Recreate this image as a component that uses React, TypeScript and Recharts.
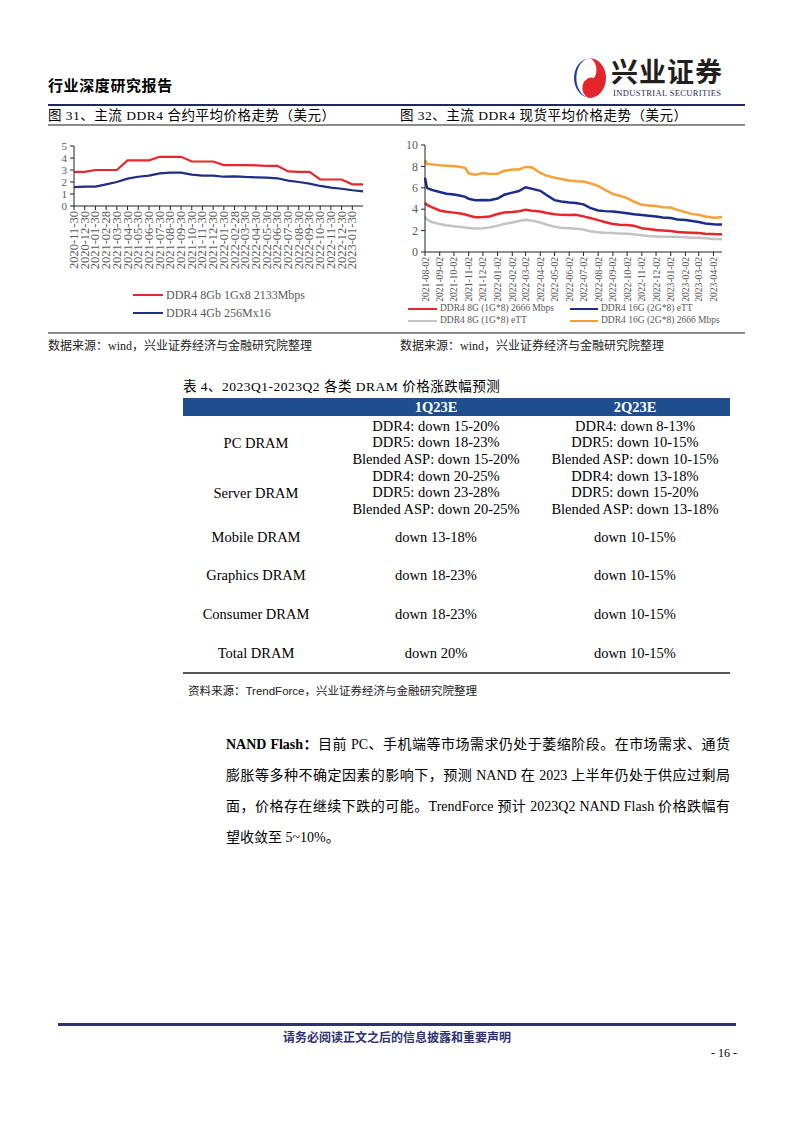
import React from 'react'
import { LineChart, Line, XAxis, YAxis } from 'recharts'

const serif = '"Liberation Serif", "Times New Roman", "Noto Sans CJK SC", serif'
const sans = '"Noto Sans CJK SC", "Liberation Sans", sans-serif'
const axisGray = '#595959'

// 图31 合约价（月度）
const contractMonths = [
  '2020-11-30', '2020-12-30', '2021-01-30', '2021-02-28', '2021-03-30', '2021-04-30', '2021-05-30',
  '2021-06-30', '2021-07-30', '2021-08-30', '2021-09-30', '2021-10-30', '2021-11-30', '2021-12-30',
  '2022-01-30', '2022-02-28', '2022-03-30', '2022-04-30', '2022-05-30', '2022-06-30', '2022-07-30',
  '2022-08-30', '2022-09-30', '2022-10-30', '2022-11-30', '2022-12-30', '2023-01-30', '2023-02-28',
]
const contract8Gb = [
  2.85, 2.85, 3.0, 3.0, 3.0, 3.8, 3.8, 3.8, 4.1, 4.1, 4.1, 3.71, 3.71, 3.71,
  3.41, 3.41, 3.41, 3.39, 3.35, 3.35, 2.88, 2.85, 2.85, 2.21, 2.21, 2.21, 1.81, 1.81,
]
const contract4Gb = [
  1.58, 1.61, 1.61, 1.8, 2.0, 2.28, 2.44, 2.53, 2.72, 2.78, 2.78, 2.61, 2.53, 2.53,
  2.44, 2.47, 2.42, 2.39, 2.36, 2.31, 2.11, 2.0, 1.86, 1.67, 1.53, 1.44, 1.31, 1.22,
]
// the last month has no label on the axis
const contractTicks = contractMonths.slice(0, 27)

// 图32 现货价
const spotDates = [
  '2021-08-02', '2021-08-06', '2021-08-16', '2021-09-02', '2021-09-16', '2021-10-02', '2021-10-16',
  '2021-10-26', '2021-11-02', '2021-11-16', '2021-12-02', '2021-12-16', '2022-01-02', '2022-01-16',
  '2022-02-02', '2022-02-16', '2022-03-02', '2022-03-16', '2022-04-02', '2022-04-16', '2022-05-02',
  '2022-05-16', '2022-06-02', '2022-06-16', '2022-07-02', '2022-07-16', '2022-08-02', '2022-08-16',
  '2022-09-02', '2022-09-16', '2022-10-02', '2022-10-16', '2022-11-02', '2022-11-16', '2022-12-02',
  '2022-12-16', '2023-01-02', '2023-01-16', '2023-02-02', '2023-02-16', '2023-03-02', '2023-03-16',
  '2023-04-02', '2023-04-10', '2023-04-20',
]
const spot8G2666 = [
  4.59, 4.4, 4.2, 3.88, 3.76, 3.68, 3.6, 3.5, 3.41, 3.25, 3.26, 3.32, 3.55, 3.7, 3.74,
  3.8, 3.94, 3.86, 3.78, 3.65, 3.53, 3.47, 3.45, 3.47, 3.33, 3.17, 2.98, 2.8, 2.62, 2.55,
  2.52, 2.46, 2.22, 2.14, 2.06, 2.02, 1.96, 1.87, 1.83, 1.8, 1.77, 1.71, 1.68, 1.66, 1.65,
]
const spot16GeTT = [
  6.94, 6.0, 5.8, 5.6, 5.45, 5.38, 5.25, 5.15, 4.97, 4.84, 4.86, 4.84, 5.0, 5.35, 5.55,
  5.7, 6.05, 5.9, 5.72, 5.3, 4.85, 4.72, 4.62, 4.58, 4.45, 4.12, 3.88, 3.82, 3.79, 3.72,
  3.62, 3.52, 3.45, 3.39, 3.32, 3.23, 3.17, 3.04, 2.98, 2.89, 2.8, 2.67, 2.6, 2.58, 2.58,
]
const spot8GeTT = [
  3.3, 3.05, 2.8, 2.62, 2.5, 2.4, 2.34, 2.28, 2.25, 2.19, 2.22, 2.3, 2.45, 2.62, 2.76,
  2.9, 3.02, 2.92, 2.75, 2.55, 2.36, 2.27, 2.22, 2.17, 2.1, 1.94, 1.84, 1.8, 1.77, 1.74,
  1.71, 1.65, 1.56, 1.5, 1.46, 1.43, 1.42, 1.4, 1.37, 1.34, 1.33, 1.28, 1.22, 1.21, 1.2,
]
const spot16G2666 = [
  8.56, 8.25, 8.19, 8.1, 8.06, 8.03, 7.94, 7.85, 7.35, 7.22, 7.38, 7.3, 7.32, 7.6, 7.7,
  7.72, 7.95, 7.9, 7.4, 7.12, 6.95, 6.82, 6.68, 6.61, 6.58, 6.43, 6.18, 5.81, 5.43, 5.25,
  5.03, 4.72, 4.41, 4.35, 4.29, 4.19, 4.16, 3.94, 3.73, 3.54, 3.48, 3.32, 3.2, 3.22, 3.26,
]
const spotTickDates = [
  '2021-08-02', '2021-09-02', '2021-10-02', '2021-11-02', '2021-12-02', '2022-01-02', '2022-02-02',
  '2022-03-02', '2022-04-02', '2022-05-02', '2022-06-02', '2022-07-02', '2022-08-02', '2022-09-02',
  '2022-10-02', '2022-11-02', '2022-12-02', '2023-01-02', '2023-02-02', '2023-03-02', '2023-04-02',
]

// 表4
const tableCols = ['1Q23E', '2Q23E']
const pcDram1Q = ['DDR4: down 15-20%', 'DDR5: down 18-23%', 'Blended ASP: down 15-20%']
const pcDram2Q = ['DDR4: down 8-13%', 'DDR5: down 10-15%', 'Blended ASP: down 10-15%']
const serverDram1Q = ['DDR4: down 20-25%', 'DDR5: down 23-28%', 'Blended ASP: down 20-25%']
const serverDram2Q = ['DDR4: down 13-18%', 'DDR5: down 15-20%', 'Blended ASP: down 13-18%']
const simpleRows = [
  ['Mobile DRAM', 'down 13-18%', 'down 10-15%'],
  ['Graphics DRAM', 'down 18-23%', 'down 10-15%'],
  ['Consumer DRAM', 'down 18-23%', 'down 10-15%'],
  ['Total DRAM', 'down 20%', 'down 10-15%'],
]

const contractData = contractMonths.map((m, i) => ({ m, a: contract8Gb[i], b: contract4Gb[i] }))
const spotData = spotDates.map((d, i) => ({
  t: Date.parse(d),
  red: spot8G2666[i],
  blue: spot16GeTT[i],
  gray: spot8GeTT[i],
  orange: spot16G2666[i],
}))
const spotTicks = spotTickDates.map((d) => Date.parse(d))
const fmtDate = (t: number) => new Date(t).toISOString().slice(0, 10)

function VerticalTick(props: any) {
  const { x, y, payload, fontSize, fmt } = props
  const label = fmt ? fmt(payload.value) : payload.value
  return (
    <g transform={`translate(${x},${y})`}>
      <text
        transform="rotate(-90)"
        textAnchor="end"
        dominantBaseline="central"
        fontSize={fontSize}
        fill={axisGray}
        fontFamily={serif}
      >
        {label}
      </text>
    </g>
  )
}

function Txt({ x, y, size, children, style }: any) {
  return (
    <div
      style={{
        position: 'absolute',
        left: x,
        top: y - size * 0.6,
        lineHeight: `${size * 1.2}px`,
        fontSize: size,
        whiteSpace: 'nowrap',
        ...style,
      }}
    >
      {children}
    </div>
  )
}

function Rule({ x, y, w, h, color }: any) {
  return <div style={{ position: 'absolute', left: x, top: y, width: w, height: h, background: color }} />
}

function LegendItem({ x, y, color, label, size, seg }: any) {
  return (
    <>
      <div style={{ position: 'absolute', left: x, top: y - 1.25, width: seg, height: 2.5, background: color }} />
      <Txt x={x + seg + 3} y={y} size={size} style={{ color: axisGray, fontFamily: serif }}>
        {label}
      </Txt>
    </>
  )
}

function Cell({ cx, y, children }: any) {
  return (
    <div
      style={{
        position: 'absolute',
        left: cx - 150,
        width: 300,
        top: y - 8.5,
        lineHeight: '17px',
        textAlign: 'center',
        fontSize: 14.5,
        fontFamily: serif,
        whiteSpace: 'nowrap',
      }}
    >
      {children}
    </div>
  )
}

function Logo() {
  return (
    <svg style={{ position: 'absolute', left: 572, top: 57 }} width={36} height={42} viewBox="0 0 36 42">
      <path d="M19 1 A17 20 0 0 0 19 41 A11 15 0 0 1 19 1 Z" fill="#1f3f95" />
      <path d="M17 41 A17 20 0 0 0 17 1 A9 12 0 0 1 22 21 A8 9 0 0 0 17 41 Z" fill="#e3262c" />
    </svg>
  )
}

const paraLines = [
  '膨胀等多种不确定因素的影响下，预测 NAND 在 2023 上半年仍处于供应过剩局',
  '面，价格存在继续下跌的可能。TrendForce 预计 2023Q2 NAND Flash 价格跌幅有',
]

export default function App() {
  const colX = [256, 436, 635]
  return (
    <div
      style={{
        position: 'absolute',
        left: 0,
        top: 0,
        width: 794,
        height: 1123,
        background: '#fff',
        fontFamily: serif,
        color: '#000',
        overflow: 'hidden',
      }}
    >
      {/* 页眉 */}
      <Txt x={48} y={85} size={15} style={{ fontFamily: sans, fontWeight: 700, letterSpacing: 0.6 }}>
        行业深度研究报告
      </Txt>
      <Logo />
      <Txt x={611} y={71} size={27} style={{ fontFamily: sans, fontWeight: 700, color: '#231f20', letterSpacing: 1 }}>
        兴业证券
      </Txt>
      <Txt x={613} y={93} size={8.5} style={{ color: '#1f2a5c', letterSpacing: 0.35 }}>
        INDUSTRIAL SECURITIES
      </Txt>
      <Rule x={48} y={104} w={697} h={1.5} color="#1f2a5c" />

      {/* 图标题 */}
      <Txt x={48} y={116} size={13.5} style={{ letterSpacing: 0.5 }}>
        图 31、主流 DDR4 合约平均价格走势（美元）
      </Txt>
      <Txt x={400} y={116} size={13.5} style={{ letterSpacing: 0.5 }}>
        图 32、主流 DDR4 现货平均价格走势（美元）
      </Txt>
      <Rule x={48} y={124} w={697} h={2} color="#8c8c8c" />

      {/* 图31 */}
      <div style={{ position: 'absolute', left: 48, top: 130, width: 342, height: 200 }}>
        <LineChart width={342} height={200} data={contractData} margin={{ top: 16, right: 27, left: 0, bottom: 54 }}>
          <XAxis
            dataKey="m"
            type="category"
            ticks={contractTicks}
            interval={0}
            height={70}
            tickSize={4}
            tickMargin={1}
            axisLine={{ stroke: '#222' }}
            tickLine={{ stroke: '#222' }}
            tick={(p: any) => <VerticalTick {...p} fontSize={12.5} />}
          />
          <YAxis
            domain={[0, 5]}
            ticks={[0, 1, 2, 3, 4, 5]}
            interval={0}
            width={26}
            tickSize={4}
            tickMargin={3}
            axisLine={{ stroke: '#222' }}
            tickLine={{ stroke: '#222' }}
            tick={{ fontSize: 11, fill: axisGray, fontFamily: serif }}
          />
          <Line type="linear" dataKey="a" stroke="#e8262b" strokeWidth={2.2} dot={false} isAnimationActive={false} />
          <Line type="linear" dataKey="b" stroke="#1f2d86" strokeWidth={2.2} dot={false} isAnimationActive={false} />
        </LineChart>
      </div>
      <LegendItem x={133} y={295} seg={30} color="#e8262b" size={12} label="DDR4 8Gb 1Gx8 2133Mbps" />
      <LegendItem x={133} y={313} seg={30} color="#1f2d86" size={12} label="DDR4 4Gb 256Mx16" />

      {/* 图32 */}
      <div style={{ position: 'absolute', left: 395, top: 130, width: 350, height: 200 }}>
        <LineChart width={350} height={200} data={spotData} margin={{ top: 15, right: 23, left: 0, bottom: 23 }}>
          <XAxis
            dataKey="t"
            type="number"
            domain={[spotTicks[0], Date.parse('2023-04-20')]}
            ticks={spotTicks}
            interval={0}
            height={55}
            tickSize={4}
            tickMargin={1}
            axisLine={{ stroke: '#222' }}
            tickLine={{ stroke: '#222' }}
            tick={(p: any) => <VerticalTick {...p} fontSize={9.6} fmt={fmtDate} />}
          />
          <YAxis
            domain={[0, 10]}
            ticks={[0, 2, 4, 6, 8, 10]}
            interval={0}
            width={30}
            tickSize={4}
            tickMargin={3}
            axisLine={{ stroke: '#222' }}
            tickLine={{ stroke: '#222' }}
            tick={{ fontSize: 12, fill: axisGray, fontFamily: serif }}
          />
          <Line type="linear" dataKey="gray" stroke="#c3c3c3" strokeWidth={2.5} dot={false} isAnimationActive={false} />
          <Line type="linear" dataKey="red" stroke="#e8262b" strokeWidth={2.5} dot={false} isAnimationActive={false} />
          <Line type="linear" dataKey="blue" stroke="#1a2b8c" strokeWidth={2.5} dot={false} isAnimationActive={false} />
          <Line type="linear" dataKey="orange" stroke="#f7a035" strokeWidth={2.5} dot={false} isAnimationActive={false} />
        </LineChart>
      </div>
      <LegendItem x={408} y={309} seg={29} color="#e8262b" size={9.5} label="DDR4 8G (1G*8) 2666 Mbps" />
      <LegendItem x={570} y={309} seg={28} color="#1a2b8c" size={9.5} label="DDR4 16G (2G*8) eTT" />
      <LegendItem x={408} y={321} seg={29} color="#c3c3c3" size={9.5} label="DDR4 8G (1G*8) eTT" />
      <LegendItem x={570} y={321} seg={28} color="#f7a035" size={9.5} label="DDR4 16G (2G*8) 2666 Mbps" />

      <Rule x={48} y={332} w={697} h={2} color="#8c8c8c" />
      <Txt x={48} y={346} size={12} style={{ color: '#222' }}>
        数据来源：wind，兴业证券经济与金融研究院整理
      </Txt>
      <Txt x={400} y={346} size={12} style={{ color: '#222' }}>
        数据来源：wind，兴业证券经济与金融研究院整理
      </Txt>

      {/* 表4 */}
      <Txt x={183} y={387} size={13.5} style={{ letterSpacing: 0.5 }}>
        表 4、2023Q1-2023Q2 各类 DRAM 价格涨跌幅预测
      </Txt>
      <Rule x={183} y={398} w={547} h={18} color="#1e4e8e" />
      <Cell cx={colX[1]} y={407}>
        <span style={{ color: '#fff', fontWeight: 700 }}>{tableCols[0]}</span>
      </Cell>
      <Cell cx={colX[2]} y={407}>
        <span style={{ color: '#fff', fontWeight: 700 }}>{tableCols[1]}</span>
      </Cell>
      <Cell cx={colX[0]} y={443}>PC DRAM</Cell>
      {pcDram1Q.map((s, i) => (
        <Cell key={'a' + i} cx={colX[1]} y={426 + i * 16.8}>{s}</Cell>
      ))}
      {pcDram2Q.map((s, i) => (
        <Cell key={'b' + i} cx={colX[2]} y={426 + i * 16.8}>{s}</Cell>
      ))}
      <Cell cx={colX[0]} y={493}>Server DRAM</Cell>
      {serverDram1Q.map((s, i) => (
        <Cell key={'c' + i} cx={colX[1]} y={476 + i * 16.8}>{s}</Cell>
      ))}
      {serverDram2Q.map((s, i) => (
        <Cell key={'d' + i} cx={colX[2]} y={476 + i * 16.8}>{s}</Cell>
      ))}
      {simpleRows.map((r, i) =>
        r.map((s, j) => (
          <Cell key={'e' + i + j} cx={colX[j]} y={537 + i * 38.7}>{s}</Cell>
        ))
      )}
      <Rule x={183} y={672} w={547} h={1.5} color="#555" />
      <Txt x={188} y={692} size={11.5} style={{ color: '#222' }}>
        资料来源：<span style={{ fontFamily: '"Liberation Sans", sans-serif' }}>TrendForce</span>，兴业证券经济与金融研究院整理
      </Txt>

      {/* 正文 */}
      <div
        style={{
          position: 'absolute',
          left: 226,
          top: 745 - 10,
          width: 504,
          lineHeight: '20px',
          fontSize: 14,
          textAlign: 'justify',
          textAlignLast: 'justify',
          whiteSpace: 'nowrap',
        }}
      >
        <b>NAND Flash：</b>目前 PC、手机端等市场需求仍处于萎缩阶段。在市场需求、通货
      </div>
      {paraLines.map((s, i) => (
        <div
          key={i}
          style={{
            position: 'absolute',
            left: 226,
            top: 776 + i * 31 - 10,
            width: 504,
            lineHeight: '20px',
            fontSize: 14,
            textAlign: 'justify',
            textAlignLast: 'justify',
          }}
        >
          {s}
        </div>
      ))}
      <Txt x={226} y={838} size={14}>
        望收敛至 5~10%。
      </Txt>

      {/* 页脚 */}
      <Rule x={58} y={1023} w={678} h={2.5} color="#2e3270" />
      <div
        style={{
          position: 'absolute',
          left: 0,
          width: 794,
          top: 1037 - 9,
          lineHeight: '18px',
          textAlign: 'center',
          fontSize: 12,
          fontWeight: 700,
          fontFamily: sans,
          color: '#2e3270',
        }}
      >
        请务必阅读正文之后的信息披露和重要声明
      </div>
      <Txt x={711} y={1053} size={12}>
        - 16 -
      </Txt>
    </div>
  )
}
